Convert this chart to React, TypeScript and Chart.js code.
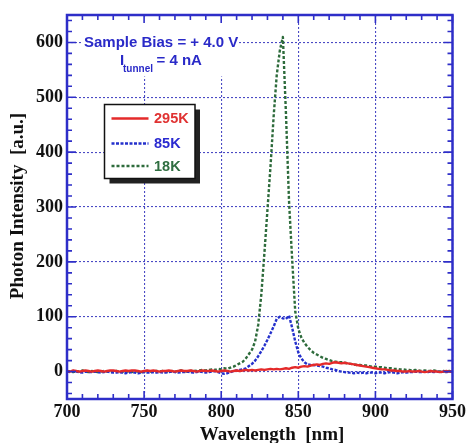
import React, { useEffect, useRef } from "react";
import { Chart, registerables } from "chart.js";

Chart.register(...registerables);

// Sampling grid of the spectra (nm)
const WAVELENGTH: number[] = Array.from({ length: 126 }, (_, i) => 700 + 2 * i);

const X_TICKS = [700, 750, 800, 850, 900, 950];
const Y_TICKS = [0, 100, 200, 300, 400, 500, 600];

const SERIES_NAMES = ["295K", "85K", "18K"];

// 295K
const I_295K = [
  1, 0, 2, 1, 0, 1, 2, 1, 0, 1,
  2, 1, 0, 1, 2, 2, 1, 0, 1, 2,
  1, 2, 2, 1, 0, 1, 2, 1, 2, 1,
  0, 1, 1, 2, 1, 0, 1, 2, 1, 1,
  2, 1, 0, 1, 2, 1, 1, 2, 1, 0,
  1, 2, 1, 0, 1, 2, 1, 2, 3, 2,
  3, 2, 3, 4, 3, 4, 5, 4, 5, 4,
  5, 6, 5, 7, 8, 7, 9, 10, 9, 11,
  12, 13, 12, 14, 15, 14, 16, 17, 16, 15,
  16, 15, 14, 13, 12, 11, 10, 9, 8, 7,
  6, 5, 4, 4, 3, 2, 2, 1, 1, 0,
  0, 1, 0, 0, 1, 0, -1, 0, 1, 0,
  0, -1, 0, 1, 0, 0,
];

// 85K
const I_85K = [
  0, -1, 1, 0, -1, -2, 0, -1, -1, 0,
  -1, -2, -1, 0, -1, -2, -2, -1, -2, -3,
  -2, -1, -2, -3, -2, -1, -2, -2, -1, -2,
  -1, -2, -2, -1, 0, -1, -2, -1, -1, 0,
  -1, -2, -1, 0, -1, -2, -1, 0, 1, -1,
  -3, -4, -3, -1, 1, 2, 3, 4, 6, 10,
  14, 20, 28, 37, 47, 58, 70, 82, 96, 100,
  97, 96, 102, 80, 55, 35, 24, 17, 13, 12,
  12, 11, 10, 9, 7, 6, 4, 3, 1, 0,
  -1, -2, -2, -3, -2, -3, -2, -3, -2, -2,
  -3, -2, -2, -3, -2, -1, -2, -3, -2, -1,
  -2, -1, -1, 0, -1, -1, 0, -1, 0, -1,
  0, -1, 0, -1, 0, -1,
];

// 18K
const I_18K = [
  1, 0, -1, 1, 0, 2, 0, -1, 1, 0,
  -1, 0, 1, 0, -1, 0, 1, 0, -1, 0,
  0, -1, 1, 0, -1, 0, 1, 0, 0, 1,
  0, 1, 0, -1, 1, 0, 1, 2, 1, 0,
  1, 2, 1, 2, 3, 2, 3, 4, 3, 5,
  4, 6, 5, 7, 9, 12, 15, 18, 24, 32,
  40, 55, 85, 140, 215, 295, 375, 465, 540, 585,
  610, 470, 310, 205, 110, 78, 62, 52, 45, 39,
  34, 31, 28, 25, 23, 21, 19, 18, 17, 17,
  16, 15, 14, 13, 12, 12, 11, 11, 10, 9,
  9, 8, 8, 7, 6, 6, 5, 5, 4, 4,
  3, 3, 2, 3, 2, 1, 2, 1, 1, 2,
  1, 0, 1, 0, 1, 0,
];

const LINE_COLORS = ["#e42a2a", "#2430cc", "#2d6b3b"];
const TEXT_COLORS = ["#e03232", "#2a2ad0", "#2f6e40"];
const DASHES: number[][] = [[], [3, 1.5], [3, 2]];
const FRAME = "#2e2ec8";
const SERIF = '"Liberation Serif", "Times New Roman", serif';
const SANS = '"Liberation Sans", Arial, sans-serif';

const overlay = {
  id: "overlay",
  afterDatasetsDraw(chart: any) {
    const { ctx, chartArea: ca, scales } = chart;
    const xs = scales.x;
    const ys = scales.y;
    ctx.save();

    // annotation background + text
    ctx.fillStyle = "#ffffff";
    ctx.fillRect(83, ca.top + 1.5, 155, 60);
    ctx.fillStyle = "#2a2ac8";
    ctx.textBaseline = "middle";
    ctx.textAlign = "left";
    ctx.font = `bold 15px ${SANS}`;
    ctx.fillText("Sample Bias = + 4.0 V", 84, ys.getPixelForValue(600));
    ctx.fillText("I", 120, 61);
    ctx.fillText("= 4 nA", 156.5, 61);
    ctx.font = `bold 10px ${SANS}`;
    ctx.textBaseline = "alphabetic";
    ctx.fillText("tunnel", 123, 72);

    // legend box with shadow
    const lx = 104.5, ly = 104.5, lw = 90.5, lh = 74;
    ctx.fillStyle = "#222";
    ctx.fillRect(lx + 5, ly + 5, lw, lh);
    ctx.fillStyle = "#fff";
    ctx.fillRect(lx, ly, lw, lh);
    ctx.strokeStyle = "#111";
    ctx.lineWidth = 1.5;
    ctx.strokeRect(lx, ly, lw, lh);
    const rows = [118.5, 143.5, 166];
    ctx.font = `bold 14.5px ${SANS}`;
    ctx.textBaseline = "middle";
    SERIES_NAMES.forEach((name, i) => {
      ctx.beginPath();
      ctx.setLineDash(DASHES[i]);
      ctx.strokeStyle = LINE_COLORS[i];
      ctx.lineWidth = 2.5;
      ctx.moveTo(111.5, rows[i]);
      ctx.lineTo(148.5, rows[i]);
      ctx.stroke();
      ctx.setLineDash([]);
      ctx.fillStyle = TEXT_COLORS[i];
      ctx.fillText(name, 154, rows[i] + 0.5);
    });

    // frame
    ctx.strokeStyle = FRAME;
    ctx.lineWidth = 2.5;
    ctx.strokeRect(ca.left, ca.top, ca.right - ca.left, ca.bottom - ca.top);

    // inward tick marks
    ctx.lineWidth = 1.6;
    ctx.beginPath();
    for (let v = 700; v <= 950; v += 10) {
      const px = xs.getPixelForValue(v);
      const len = v % 50 === 0 ? 8 : 5;
      ctx.moveTo(px, ca.bottom);
      ctx.lineTo(px, ca.bottom - len);
      ctx.moveTo(px, ca.top);
      ctx.lineTo(px, ca.top + len);
    }
    for (let v = -40; v <= 640; v += 20) {
      const py = ys.getPixelForValue(v);
      const len = v % 100 === 0 ? 9 : 5;
      ctx.moveTo(ca.left, py);
      ctx.lineTo(ca.left + len, py);
      ctx.moveTo(ca.right, py);
      ctx.lineTo(ca.right - len, py);
    }
    ctx.stroke();
    ctx.restore();
  },
  afterDraw(chart: any) {
    const { ctx, chartArea: ca } = chart;
    ctx.save();
    ctx.fillStyle = "#111";
    ctx.font = `bold 19px ${SERIF}`;
    ctx.textAlign = "center";
    ctx.textBaseline = "alphabetic";
    ctx.fillText("Wavelength  [nm]", 272, 440);
    ctx.translate(23, (ca.top + ca.bottom) / 2 - 1);
    ctx.rotate(-Math.PI / 2);
    ctx.fillText("Photon Intensity  [a.u.]", 0, 0);
    ctx.restore();
  },
};

export default function App() {
  const ref = useRef<HTMLCanvasElement | null>(null);
  useEffect(() => {
    if (!ref.current) return;
    const seriesValues = [I_295K, I_85K, I_18K];
    const chart = new Chart(ref.current, {
      type: "line",
      data: {
        datasets: seriesValues.map((vals, i) => ({
          label: SERIES_NAMES[i],
          data: vals.map((v, k) => ({ x: WAVELENGTH[k], y: v })),
          borderColor: LINE_COLORS[i],
          borderWidth: 2.4,
          borderDash: DASHES[i],
          borderJoinStyle: "round",
          pointRadius: 0,
          tension: 0,
          fill: false,
        })),
      },
      options: {
        responsive: false,
        animation: false,
        layout: { padding: { top: 15, right: 15, left: 0, bottom: 0 } },
        plugins: { legend: { display: false }, tooltip: { enabled: false }, title: { display: false } },
        scales: {
          x: {
            type: "linear",
            min: 700,
            max: 950,
            afterBuildTicks: (s: any) => {
              s.ticks = X_TICKS.map((v) => ({ value: v }));
            },
            afterFit: (s: any) => {
              s.height = 44;
            },
            grid: { color: "#4a4ac4", lineWidth: 1.1, drawTicks: false },
            border: { display: false, dash: [2, 2] },
            ticks: {
              color: "#111",
              padding: 3,
              maxRotation: 0,
              font: { family: SERIF, weight: "bold", size: 18 },
            },
          },
          y: {
            type: "linear",
            min: -50,
            max: 650,
            afterBuildTicks: (s: any) => {
              s.ticks = Y_TICKS.map((v) => ({ value: v }));
            },
            afterFit: (s: any) => {
              s.width = 67;
            },
            grid: { color: "#4a4ac4", lineWidth: 1.1, drawTicks: false },
            border: { display: false, dash: [2, 2] },
            ticks: {
              color: "#111",
              padding: 4,
              font: { family: SERIF, weight: "bold", size: 18 },
            },
          },
        },
      },
      plugins: [overlay],
    } as any);
    return () => chart.destroy();
  }, []);
  return (
    <div style={{ position: "fixed", left: 0, top: 0, width: 469, height: 443, background: "#fff" }}>
      <canvas ref={ref} width={469} height={443} style={{ display: "block" }} />
    </div>
  );
}
